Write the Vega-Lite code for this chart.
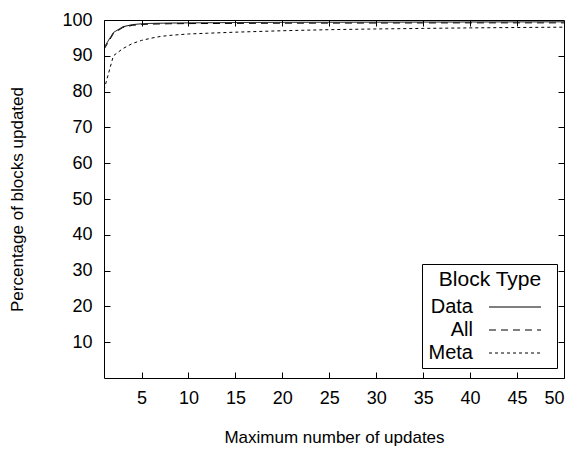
{
  "$schema": "https://vega.github.io/schema/vega-lite/v6.json",
  "width": 460,
  "height": 358,
  "autosize": "none",
  "padding": {"left": 104, "top": 20, "right": 16, "bottom": 74},
  "background": "white",
  "config": {
    "font": "Liberation Sans",
    "view": {"stroke": "black", "strokeWidth": 1},
    "axis": {"grid": false, "domain": false, "tickColor": "black", "tickSize": -6, "labelColor": "black", "labelFontSize": 18, "titleFontSize": 17, "titleFontWeight": "normal", "titleColor": "black", "labelFont": "Liberation Sans", "titleFont": "Liberation Sans"}
  },
  "data": {"values": [
    {"n": 1, "pct": 92.3, "type": "Data"},
    {"n": 2, "pct": 96.5, "type": "Data"},
    {"n": 3, "pct": 98.1, "type": "Data"},
    {"n": 4, "pct": 98.7, "type": "Data"},
    {"n": 5, "pct": 98.95, "type": "Data"},
    {"n": 6, "pct": 99.05, "type": "Data"},
    {"n": 8, "pct": 99.15, "type": "Data"},
    {"n": 10, "pct": 99.2, "type": "Data"},
    {"n": 15, "pct": 99.3, "type": "Data"},
    {"n": 20, "pct": 99.35, "type": "Data"},
    {"n": 30, "pct": 99.4, "type": "Data"},
    {"n": 40, "pct": 99.45, "type": "Data"},
    {"n": 50, "pct": 99.5, "type": "Data"},
    {"n": 1, "pct": 91.8, "type": "All"},
    {"n": 2, "pct": 96.2, "type": "All"},
    {"n": 3, "pct": 97.9, "type": "All"},
    {"n": 4, "pct": 98.5, "type": "All"},
    {"n": 5, "pct": 98.75, "type": "All"},
    {"n": 6, "pct": 98.85, "type": "All"},
    {"n": 8, "pct": 98.95, "type": "All"},
    {"n": 10, "pct": 99.0, "type": "All"},
    {"n": 15, "pct": 99.05, "type": "All"},
    {"n": 20, "pct": 99.1, "type": "All"},
    {"n": 30, "pct": 99.15, "type": "All"},
    {"n": 40, "pct": 99.2, "type": "All"},
    {"n": 50, "pct": 99.2, "type": "All"},
    {"n": 1, "pct": 80.5, "type": "Meta"},
    {"n": 2, "pct": 90.0, "type": "Meta"},
    {"n": 3, "pct": 92.0, "type": "Meta"},
    {"n": 4, "pct": 93.4, "type": "Meta"},
    {"n": 5, "pct": 94.3, "type": "Meta"},
    {"n": 6, "pct": 94.9, "type": "Meta"},
    {"n": 7, "pct": 95.4, "type": "Meta"},
    {"n": 8, "pct": 95.7, "type": "Meta"},
    {"n": 10, "pct": 96.1, "type": "Meta"},
    {"n": 12, "pct": 96.3, "type": "Meta"},
    {"n": 15, "pct": 96.6, "type": "Meta"},
    {"n": 20, "pct": 97.0, "type": "Meta"},
    {"n": 25, "pct": 97.3, "type": "Meta"},
    {"n": 30, "pct": 97.5, "type": "Meta"},
    {"n": 35, "pct": 97.65, "type": "Meta"},
    {"n": 40, "pct": 97.8, "type": "Meta"},
    {"n": 45, "pct": 97.9, "type": "Meta"},
    {"n": 50, "pct": 98.0, "type": "Meta"}
  ]},
  "layer": [
    {
      "mark": {"type": "line", "strokeWidth": 1, "color": "black", "clip": true},
      "encoding": {
        "x": {"field": "n", "type": "quantitative", "scale": {"domain": [1, 50], "nice": false, "zero": false},
          "axis": {"values": [5, 10, 15, 20, 25, 30, 35, 40, 45, 50], "title": "Maximum number of updates", "labelPadding": 17, "titlePadding": 22}},
        "y": {"field": "pct", "type": "quantitative", "scale": {"domain": [0, 100], "nice": false},
          "axis": {"values": [10, 20, 30, 40, 50, 60, 70, 80, 90, 100], "title": "Percentage of blocks updated", "labelPadding": 18, "titlePadding": 35}},
        "strokeDash": {"field": "type", "type": "nominal",
          "scale": {"domain": ["Data", "All", "Meta"], "range": [[1, 0], [7, 5], [3, 3]]},
          "legend": {"title": "Block Type", "orient": "none", "legendX": 318, "legendY": 244,
            "symbolType": "M-5.2,0H5.2M7,0", "symbolSize": 100, "symbolStrokeWidth": 1, "symbolStrokeColor": "black",
            "symbolOffset": 78, "labelAlign": "right", "labelOffset": -52, "labelFontSize": 20, "titleFontSize": 21, "titleFontWeight": "normal",
            "titleAnchor": "middle", "strokeColor": "black", "fillColor": "white", "padding": 5, "rowPadding": 3, "titlePadding": 7, "labelColor": "black", "titleColor": "black"}}
      }
    },
    {
      "mark": {"type": "line", "opacity": 0},
      "encoding": {
        "x": {"field": "n", "type": "quantitative", "axis": {"orient": "top", "values": [5, 10, 15, 20, 25, 30, 35, 40, 45], "labels": false, "title": null}},
        "y": {"field": "pct", "type": "quantitative", "axis": {"orient": "right", "values": [10, 20, 30, 40, 50, 60, 70, 80, 90], "labels": false, "title": null}}
      }
    }
  ],
  "resolve": {"axis": {"x": "independent", "y": "independent"}}
}
